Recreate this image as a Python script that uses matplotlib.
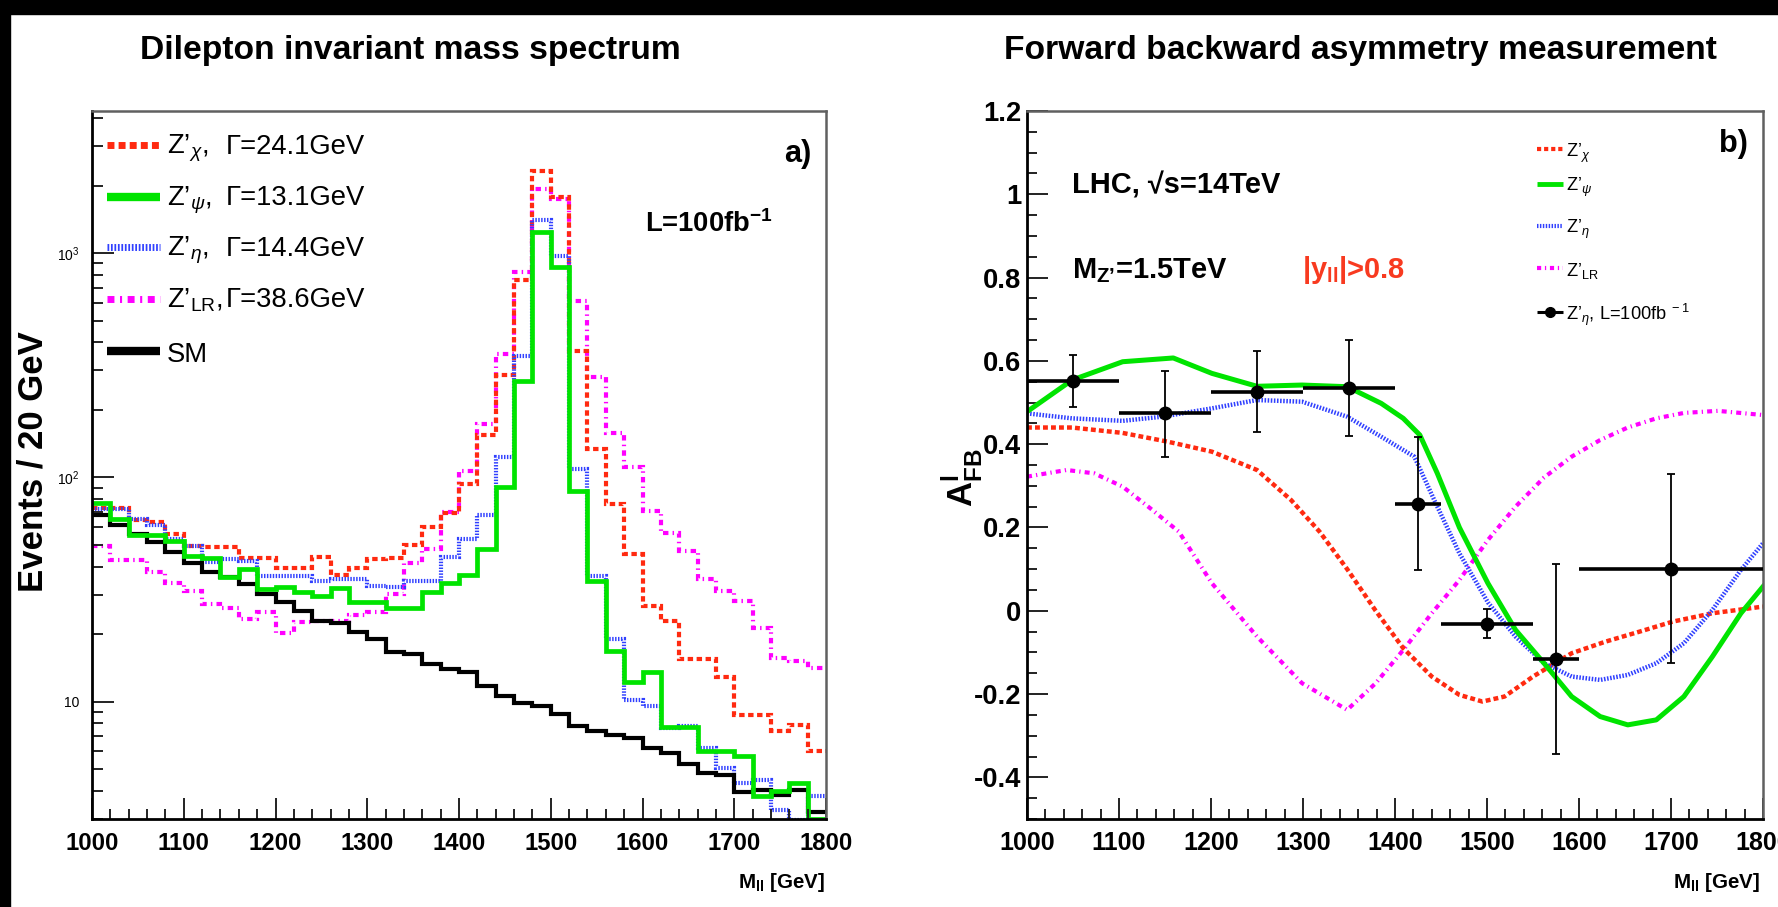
import numpy as np
import matplotlib
matplotlib.use('Agg')
import matplotlib.pyplot as plt
from matplotlib import font_manager as fm
from matplotlib.lines import Line2D
from matplotlib.patches import Rectangle
from matplotlib.ticker import MultipleLocator, LogLocator, FixedLocator, NullFormatter, FuncFormatter

# ---------------- data ----------------
bin_start = 1000
bin_width = 20
n_bins = 40

sm_vals = [67.9, 61.3, 56.2, 51.3, 46.3, 41.5, 37.7, 35.8, 33.5, 30.2,
           27.7, 25.4, 22.9, 22.5, 20.5, 19.0, 16.7, 16.3, 14.7, 14.0,
           13.5, 11.8, 10.6, 9.9, 9.6, 8.8, 7.8, 7.4, 7.1, 6.9,
           6.2, 5.9, 5.25, 4.8, 4.7, 3.95, 4.06, 3.82, 4.04, 3.23]
psi_vals = [76.8, 65.2, 55.5, 55.5, 51.8, 44.4, 43.6, 36.0, 39.0, 31.7,
            32.5, 30.7, 29.7, 32.1, 27.9, 27.7, 26.3, 26.3, 30.9, 33.8,
            36.6, 47.9, 90.2, 270, 1248, 866, 87.2, 34.6, 16.9, 12.3,
            13.6, 7.7, 7.7, 6.03, 6.03, 5.7, 3.8, 4.0, 4.35, 3.0]
chi_vals = [73, 73, 64.5, 63, 55.8, 49.5, 48.7, 48.7, 43.6, 43.6,
            39.6, 39.4, 44, 36.6, 39.6, 43.2, 43.5, 49.9, 60.4, 69.3,
            93, 154, 286, 755, 2320, 1780, 365, 134, 76, 45.5,
            26.7, 22.9, 15.5, 15.5, 12.9, 8.7, 8.7, 7.4, 7.9, 6.0]
eta_vals = [72.6, 72.2, 65.2, 61.3, 53, 49.5, 42, 43.2, 42.5, 36.4,
            36.4, 36.4, 34.6, 35.2, 35.2, 32.8, 32.5, 34.6, 34.6, 44,
            53, 68, 123, 347, 1400, 975, 109, 36.4, 19, 10.2,
            9.6, 7.66, 7.8, 6.24, 5.07, 4.35, 4.5, 3.3, 2.98, 3.8]
lr_vals = [49.5, 42.9, 42.9, 37.7, 33.8, 31.2, 27.2, 26.3, 23.3, 25,
           20.3, 22.7, 22.9, 22.9, 24.3, 25, 30.1, 41.7, 47.9, 70,
           107, 173, 355, 822, 1936, 1746, 614, 279, 158, 111,
           71, 56.8, 47.1, 35.2, 31.2, 28.1, 21.4, 15.7, 15.2, 14.2]

legend_left_labels = [r"Z’$_{\chi}$,", r"Z’$_{\psi}$,", r"Z’$_{\eta}$,", r"Z’$_{\mathrm{LR}}$,", "SM"]
legend_left_widths = ["Γ=24.1GeV", "Γ=13.1GeV", "Γ=14.4GeV", "Γ=38.6GeV", ""]

# AFB curves
chi_M = [1000, 1049, 1104, 1153, 1201, 1250, 1287, 1318, 1348, 1379, 1409, 1440, 1470,
         1495, 1519, 1550, 1592, 1629, 1666, 1702, 1745, 1800]
chi_A = [0.44, 0.44, 0.427, 0.406, 0.382, 0.338, 0.266, 0.19, 0.10, 0.0, -0.09, -0.158, -0.202,
         -0.218, -0.206, -0.158, -0.102, -0.074, -0.05, -0.026, -0.006, 0.01]
psi_M = [1000, 1049, 1104, 1159, 1201, 1250, 1299, 1348, 1385, 1409, 1427, 1446, 1470, 1501,
         1531, 1562, 1592, 1623, 1653, 1684, 1714, 1745, 1776, 1800]
psi_A = [0.478, 0.554, 0.598, 0.607, 0.57, 0.539, 0.542, 0.538, 0.498, 0.462, 0.422, 0.33, 0.2, 0.066,
         -0.046, -0.126, -0.206, -0.254, -0.274, -0.262, -0.206, -0.11, -0.006, 0.058]
eta_M = [1000, 1049, 1104, 1147, 1201, 1250, 1299, 1348, 1385, 1421, 1446, 1470, 1501, 1531,
         1562, 1592, 1623, 1653, 1684, 1714, 1745, 1776, 1800]
eta_A = [0.474, 0.462, 0.456, 0.466, 0.486, 0.506, 0.502, 0.466, 0.418, 0.37, 0.25, 0.138, 0.02, -0.062,
         -0.126, -0.158, -0.166, -0.154, -0.126, -0.078, 0.002, 0.098, 0.162]
lr_M = [1000, 1043, 1073, 1104, 1134, 1165, 1201, 1250, 1299, 1348, 1379, 1409, 1440, 1470,
        1501, 1531, 1562, 1592, 1623, 1653, 1684, 1714, 1751, 1800]
lr_A = [0.322, 0.338, 0.33, 0.298, 0.246, 0.19, 0.066, -0.062, -0.174, -0.238, -0.174, -0.094, -0.006, 0.074,
        0.17, 0.25, 0.32, 0.37, 0.41, 0.44, 0.462, 0.475, 0.48, 0.47]

pt_M = [1050, 1150, 1250, 1350, 1425, 1500, 1575, 1700]
pt_A = [0.551, 0.474, 0.526, 0.535, 0.257, -0.031, -0.116, 0.101]
pt_up = [0.614, 0.575, 0.624, 0.651, 0.418, 0.004, 0.112, 0.329]
pt_dn = [0.49, 0.37, 0.43, 0.42, 0.097, -0.066, -0.343, -0.126]
pt_xlo = [1000, 1100, 1200, 1300, 1400, 1450, 1550, 1600]
pt_xhi = [1100, 1200, 1300, 1400, 1450, 1550, 1600, 1800]

legend_right_labels = [r"Z’$_{\chi}$", r"Z’$_{\psi}$", r"Z’$_{\eta}$", r"Z’$_{\mathrm{LR}}$",
                       r"Z’$_{\eta}$, L=100fb$^{\ -1}$"]

# ---------------- fonts ----------------
names = {f.name for f in fm.fontManager.ttflist}
NARROW = 'Liberation Sans Narrow' in names
NF = 'Liberation Sans Narrow' if NARROW else 'Liberation Sans'
K = 1.0 if NARROW else 0.82
def fs(v):
    return v * K

plt.rcParams['font.family'] = [NF, 'DejaVu Sans']
plt.rcParams['mathtext.fontset'] = 'custom'
plt.rcParams['mathtext.rm'] = NF
plt.rcParams['mathtext.it'] = NF + ':italic'
plt.rcParams['mathtext.bf'] = NF + ':bold'
plt.rcParams['mathtext.sf'] = NF

RED = '#ff2a10'
GREEN = '#00e400'
BLUE = '#3040ff'
MAG = '#ff00ff'

W, H = 1778, 907
fig = plt.figure(figsize=(W / 100, H / 100), dpi=100, facecolor='white')

def fx(x):
    return x / W

def fy(y):
    return 1 - y / H

# black frame strips of the screenshot
fig.add_artist(Rectangle((0, 0), fx(10), 1, transform=fig.transFigure, color='black', zorder=0))
fig.add_artist(Rectangle((0, fy(14)), 1, 14 / H, transform=fig.transFigure, color='black', zorder=0))

axL = fig.add_axes([fx(92), fy(819), (826 - 92) / W, (819 - 111) / H])
axR = fig.add_axes([fx(1027), fy(819), (1763 - 1027) / W, (819 - 111) / H])

for ax in (axL, axR):
    ax.set_facecolor('white')
    for s in ('left', 'bottom'):
        ax.spines[s].set_color('black')
        ax.spines[s].set_linewidth(2.0)
    for s in ('top', 'right'):
        ax.spines[s].set_color('#606060')
        ax.spines[s].set_linewidth(1.8)
    ax.tick_params(which='both', direction='in', top=False, right=False, width=1.4, color='#222222')
    ax.tick_params(which='major', length=15)
    ax.tick_params(which='minor', length=7.5)
    ax.tick_params(axis='x', which='major', pad=9)

# ---------------- left panel ----------------
edges = bin_start + bin_width * np.arange(n_bins + 1)
lw_h = 3.0
axL.stairs(lr_vals, edges, baseline=None, color=MAG, lw=lw_h, linestyle=(0, (1.3, 1.0, 0.35, 1.0)))
axL.stairs(chi_vals, edges, baseline=None, color=RED, lw=lw_h, linestyle=(0, (1.3, 0.85)))
axL.stairs(eta_vals, edges, baseline=None, color=BLUE, lw=lw_h, linestyle=(0, (0.35, 0.35)))
axL.stairs(sm_vals, edges, baseline=None, color='black', lw=lw_h)
axL.stairs(psi_vals, edges, baseline=None, color=GREEN, lw=3.4)

axL.set_xlim(1000, 1800)
axL.set_yscale('log')
axL.set_ylim(3.0, 4300)
axL.xaxis.set_major_locator(MultipleLocator(100))
axL.xaxis.set_minor_locator(MultipleLocator(20))
axL.yaxis.set_major_locator(FixedLocator([10, 100, 1000]))
axL.yaxis.set_minor_locator(LogLocator(base=10, subs=np.arange(2, 10)))
axL.yaxis.set_minor_formatter(NullFormatter())
ylab_map = {10: '10', 100: r'10$^{2}$', 1000: r'10$^{3}$'}
axL.yaxis.set_major_formatter(FuncFormatter(lambda v, p: ylab_map.get(int(round(v)), '')))
axL.tick_params(axis='y', which='major', length=16, pad=9, labelsize=10)
axL.tick_params(axis='y', which='minor', length=8)
for lab in axL.get_xticklabels():
    lab.set_fontsize(fs(21))
    lab.set_fontweight('bold')

# ---------------- right panel ----------------
axR.plot(lr_M, lr_A, color=MAG, lw=3.0, linestyle=(0, (1.2, 1.0, 0.3, 1.0)))
axR.plot(chi_M, chi_A, color=RED, lw=3.2, linestyle=(0, (1.1, 0.7)))
axR.plot(eta_M, eta_A, color=BLUE, lw=3.2, linestyle=(0, (0.35, 0.35)))
axR.plot(psi_M, psi_A, color=GREEN, lw=3.6)

pA = np.array(pt_A)
pM = np.array(pt_M)
axR.errorbar(pM, pA, xerr=[pM - np.array(pt_xlo), np.array(pt_xhi) - pM], fmt='none',
             ecolor='black', elinewidth=2.6, capsize=0, zorder=5)
axR.errorbar(pM, pA, yerr=[pA - np.array(pt_dn), np.array(pt_up) - pA], fmt='o', color='black',
             ms=9, elinewidth=1.3, capsize=3, capthick=1.3, zorder=6)

axR.set_xlim(1000, 1800)
axR.set_ylim(-0.5, 1.2)
axR.xaxis.set_major_locator(MultipleLocator(100))
axR.xaxis.set_minor_locator(MultipleLocator(20))
axR.yaxis.set_major_locator(MultipleLocator(0.2))
axR.yaxis.set_minor_locator(MultipleLocator(0.05))

def afmt(v, p):
    if abs(v) < 1e-9:
        return '0'
    return '%g' % round(v, 2)
axR.yaxis.set_major_formatter(FuncFormatter(afmt))
axR.tick_params(axis='y', which='major', pad=4)
for lab in axR.get_xticklabels():
    lab.set_fontsize(fs(22))
    lab.set_fontweight('bold')
for lab in axR.get_yticklabels():
    lab.set_fontsize(fs(24))
    lab.set_fontweight('bold')

# ---------------- texts ----------------
fig.text(fx(410), fy(50), 'Dilepton invariant mass spectrum', ha='center', va='center',
         fontsize=fs(29.5), fontweight='bold')
fig.text(fx(1360), fy(50), 'Forward backward asymmetry measurement', ha='center', va='center',
         fontsize=fs(29.5), fontweight='bold')
fig.text(fx(33), fy(462), 'Events / 20 GeV', rotation=90, ha='center', va='center',
         fontsize=25, fontweight='bold', family=['Liberation Sans', 'DejaVu Sans'])
fig.text(fx(962), fy(478), r'A$^{\mathbf{l}}_{\mathbf{FB}}$', rotation=90, ha='center', va='center',
         fontsize=25, fontweight='bold', family=['Liberation Sans', 'DejaVu Sans'])
fig.text(fx(825), fy(882), r'M$_{\mathbf{ll}}$ [GeV]', ha='right', va='center',
         fontsize=fs(18), fontweight='bold')
fig.text(fx(1760), fy(882), r'M$_{\mathbf{ll}}$ [GeV]', ha='right', va='center',
         fontsize=fs(18), fontweight='bold')
fig.text(fx(798), fy(162), 'a)', ha='center', va='baseline', fontsize=fs(27), fontweight='bold')
fig.text(fx(1733), fy(152), 'b)', ha='center', va='baseline', fontsize=fs(27), fontweight='bold')
fig.text(fx(645), fy(232), r'L=100fb$^{\mathbf{-1}}$', ha='left', va='baseline',
         fontsize=fs(24), fontweight='bold')
fig.text(fx(1072), fy(193), 'LHC, √s=14TeV', ha='left', va='baseline',
         fontsize=fs(25.5), fontweight='bold', family=[NF, 'DejaVu Sans'])
fig.text(fx(1072), fy(278), r'M$_{\mathbf{Z’}}$=1.5TeV', ha='left', va='baseline',
         fontsize=fs(25.5), fontweight='bold')
fig.text(fx(1302), fy(278), r'|y$_{\mathbf{ll}}$|>0.8', ha='left', va='baseline',
         fontsize=fs(25.5), fontweight='bold', color='#f83a20')

# left legend
left_styles = [
    dict(color=RED, lw=5, linestyle=(0, (1.0, 0.6))),
    dict(color=GREEN, lw=6),
    dict(color=BLUE, lw=5, linestyle=(0, (0.25, 0.25))),
    dict(color=MAG, lw=5, linestyle=(0, (1.0, 0.8, 0.3, 0.8))),
    dict(color='black', lw=6),
]
line_y = [145, 197, 247, 299, 351]
base_y = [154, 205, 256, 307, 362]
for i in range(5):
    fig.add_artist(Line2D([fx(107), fx(160)], [fy(line_y[i])] * 2, transform=fig.transFigure,
                          solid_capstyle='butt', **left_styles[i]))
    fig.text(fx(167), fy(base_y[i]), legend_left_labels[i], ha='left', va='baseline', fontsize=fs(24))
    if legend_left_widths[i]:
        fig.text(fx(226), fy(base_y[i]), legend_left_widths[i], ha='left', va='baseline',
                 fontsize=fs(24))

# right legend
right_styles = [
    dict(color=RED, lw=3, linestyle=(0, (1.0, 0.7))),
    dict(color=GREEN, lw=3.5),
    dict(color=BLUE, lw=3, linestyle=(0, (0.35, 0.35))),
    dict(color=MAG, lw=3, linestyle=(0, (1.0, 0.9, 0.3, 0.9))),
    dict(color='black', lw=2.2, marker='o', ms=7, markevery=[1]),
]
rline_y = [149, 184, 226, 268, 312]
rbase_y = [157, 191, 233, 276, 320]
for i in range(5):
    xs = [fx(1537), fx(1550), fx(1563)]
    fig.add_artist(Line2D(xs, [fy(rline_y[i])] * 3, transform=fig.transFigure,
                          solid_capstyle='butt', **right_styles[i]))
    fig.text(fx(1566), fy(rbase_y[i]), legend_right_labels[i], ha='left', va='baseline', fontsize=fs(16))

fig.savefig('out.png', dpi=100, facecolor='white')
